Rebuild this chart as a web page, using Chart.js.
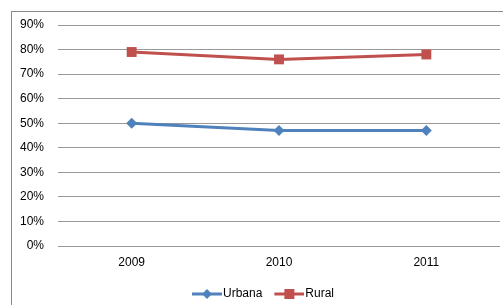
<!DOCTYPE html>
<html>
<head>
<meta charset="utf-8">
<script src="https://cdn.jsdelivr.net/npm/chart.js@4.4.1/dist/chart.umd.min.js"></script>
<style>
  html, body { margin: 0; padding: 0; background: #fff; }
  #wrap { position: relative; width: 503px; height: 305px; overflow: hidden; }
  #frame { position: absolute; left: 11px; top: 11px; width: 600px; height: 400px; border: 1px solid #8a8a8a; }
  #chart { position: absolute; left: 0; top: 0; }
</style>
</head>
<body>
<div id="wrap">
  <div id="frame"></div>
  <canvas id="chart" width="503" height="305"></canvas>
</div>
<script>
// data
const years = ['2009', '2010', '2011'];
const urbana = [50, 47, 47];
const rural = [79, 76, 78];
const yTicks = [0, 10, 20, 30, 40, 50, 60, 70, 80, 90];

const BLUE = '#4F81BD';
const RED = '#C0504D';
const FONT = 'Liberation Sans, Arial, sans-serif';

// legend swatch: line with marker in the middle, like the spreadsheet legend
// (7px of empty space on the left to widen the gap between legend items)
function swatch(color, shape) {
  const c = document.createElement('canvas');
  c.width = 37; c.height = 10;
  const g = c.getContext('2d');
  g.translate(7, 0);
  g.strokeStyle = color;
  g.lineWidth = 3;
  g.beginPath(); g.moveTo(0, 5); g.lineTo(30, 5); g.stroke();
  g.fillStyle = color;
  if (shape === 'diamond') {
    g.beginPath();
    g.moveTo(15, 0); g.lineTo(20, 5); g.lineTo(15, 10); g.lineTo(10, 5);
    g.closePath(); g.fill();
  } else {
    g.fillRect(10, 0, 10, 10);
  }
  return c;
}
const swatches = [swatch(BLUE, 'diamond'), swatch(RED, 'square')];

// nudge the legend to where the original sits, and let the x labels show below the axis box
const legendShift = {
  id: 'legendShift',
  afterLayout(chart) {
    const lg = chart.legend;
    lg.left += 12; lg.right += 12;
    lg.top += 5; lg.bottom += 5;
    chart.scales.x.bottom += 12;
  }
};

const ctx = document.getElementById('chart').getContext('2d');
new Chart(ctx, {
  type: 'line',
  data: {
    labels: years,
    datasets: [
      {
        label: 'Urbana',
        data: urbana,
        borderColor: BLUE,
        backgroundColor: BLUE,
        borderWidth: 3,
        pointStyle: 'rectRot',
        pointRadius: 5.5,
        pointBorderWidth: 0,
        tension: 0
      },
      {
        label: 'Rural',
        data: rural,
        borderColor: RED,
        backgroundColor: RED,
        borderWidth: 3,
        pointStyle: 'rect',
        pointRadius: 7,
        pointBorderWidth: 0,
        tension: 0
      }
    ]
  },
  options: {
    responsive: false,
    animation: false,
    layout: { autoPadding: false, padding: { left: 0, right: 3, top: 25, bottom: 0 } },
    plugins: {
      tooltip: { enabled: false },
      legend: {
        position: 'bottom',
        labels: {
          usePointStyle: true,
          pointStyleWidth: 27,
          padding: 10,
          color: '#000',
          font: { family: FONT, size: 12 },
          generateLabels: (chart) => chart.data.datasets.map((ds, i) => ({
            text: ds.label,
            fillStyle: ds.borderColor,
            strokeStyle: ds.borderColor,
            lineWidth: 0,
            pointStyle: swatches[i],
            datasetIndex: i,
            fontColor: '#000'
          }))
        }
      }
    },
    scales: {
      x: {
        offset: true,
        grid: { display: false, drawTicks: false, offset: true },
        border: { display: false },
        ticks: { color: '#000', padding: 9, font: { family: FONT, size: 12 } },
        afterFit: (scale) => {
          scale.height = 27;
          scale.paddingLeft = 0;
          scale.paddingRight = 0;
        }
      },
      y: {
        min: 0,
        max: 90,
        afterBuildTicks: (scale) => { scale.ticks = yTicks.map(v => ({ value: v })); },
        grid: { color: '#999', lineWidth: 1, drawTicks: false },
        border: { display: false },
        ticks: {
          color: '#000',
          padding: 14,
          font: { family: FONT, size: 12 },
          callback: (v) => v + '%'
        },
        afterFit: (scale) => { scale.width = 58; }
      }
    }
  },
  plugins: [legendShift]
});
</script>
</body>
</html>
